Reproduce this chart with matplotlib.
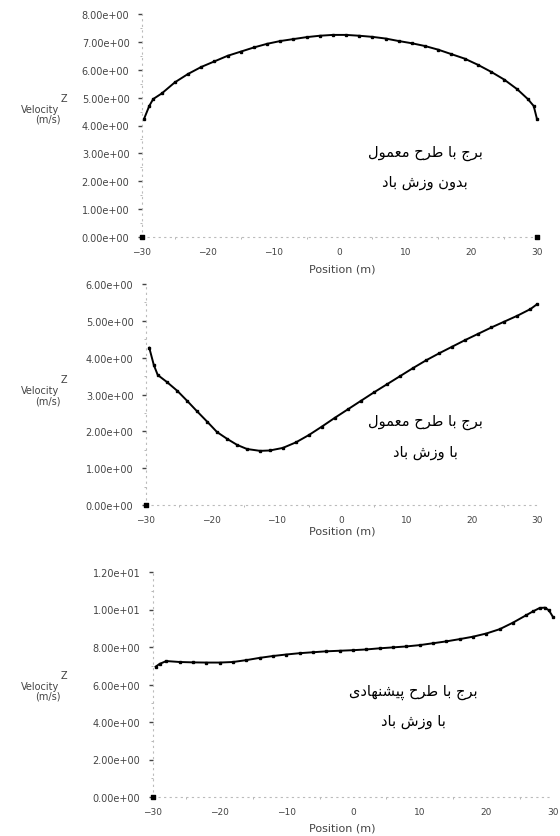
import matplotlib
matplotlib.use('Agg')
import matplotlib.pyplot as plt
from matplotlib.ticker import FormatStrFormatter, MultipleLocator

# --- data ---
pos1 = [-29.7, -28.9, -28.3, -27, -25, -23, -21, -19, -17, -15, -13, -11, -9, -7, -5, -3, -1,
        1, 3, 5, 7, 9, 11, 13, 15, 17, 19, 21, 23, 25, 27, 28.6, 29.5, 30]
vel1 = [4.23, 4.7, 4.95, 5.15, 5.55, 5.85, 6.1, 6.3, 6.5, 6.65, 6.8, 6.93, 7.03, 7.1, 7.17, 7.22, 7.25,
        7.25, 7.22, 7.18, 7.12, 7.03, 6.95, 6.85, 6.72, 6.56, 6.4, 6.18, 5.93, 5.65, 5.3, 4.95, 4.7, 4.23]

pos2 = [-29.5, -28.8, -28.2, -26.8, -25.2, -23.7, -22.2, -20.6, -19.1, -17.5, -16, -14.5, -12.5, -11,
        -9, -7, -5, -3, -1, 1, 3, 5, 7, 9, 11, 13, 15, 17, 19, 21, 23, 25, 27, 29, 30]
vel2 = [4.27, 3.8, 3.53, 3.34, 3.1, 2.83, 2.55, 2.26, 1.98, 1.79, 1.63, 1.52, 1.47, 1.48,
        1.55, 1.7, 1.9, 2.13, 2.37, 2.6, 2.83, 3.06, 3.28, 3.5, 3.72, 3.93, 4.12, 4.3, 4.48,
        4.65, 4.82, 4.98, 5.14, 5.32, 5.45]

pos3 = [-29.6, -29, -28, -26, -24, -22, -20, -18, -16, -14, -12, -10, -8, -6, -4, -2, 0, 2, 4, 6, 8,
        10, 12, 14, 16, 18, 20, 22, 24, 26, 27, 28, 28.8, 29.4, 30]
vel3 = [6.95, 7.1, 7.25, 7.2, 7.18, 7.17, 7.17, 7.2, 7.3, 7.42, 7.52, 7.6, 7.67, 7.72, 7.77, 7.8, 7.83,
        7.87, 7.93, 7.98, 8.03, 8.1, 8.2, 8.3, 8.42, 8.55, 8.72, 8.95, 9.3, 9.7, 9.9, 10.08, 10.1,
        9.95, 9.6]

# wall points sitting on the axis
wall_pos = [[-30, 30], [-30], [-30]]
wall_vel = [[0, 0], [0], [0]]

xticks = [-30, -20, -10, 0, 10, 20, 30]
ytop = [8, 6, 12]
ystep = [1, 1, 2]

captions = [("برج با طرح معمول", "بدون وزش باد"),
            ("برج با طرح معمول", "با وزش باد"),
            ("برج با طرح پیشنهادی", "با وزش باد")]

# --- tiny persian shaper (matplotlib does not join arabic letters) ---
forms = {
    'ا': ('\uFE8D', '\uFE8E', None, None),
    'ب': ('\uFE8F', '\uFE90', '\uFE91', '\uFE92'),
    'پ': ('\uFB56', '\uFB57', '\uFB58', '\uFB59'),
    'ج': ('\uFE9D', '\uFE9E', '\uFE9F', '\uFEA0'),
    'ح': ('\uFEA1', '\uFEA2', '\uFEA3', '\uFEA4'),
    'د': ('\uFEA9', '\uFEAA', None, None),
    'ر': ('\uFEAD', '\uFEAE', None, None),
    'ز': ('\uFEAF', '\uFEB0', None, None),
    'ش': ('\uFEB5', '\uFEB6', '\uFEB7', '\uFEB8'),
    'ط': ('\uFEC1', '\uFEC2', '\uFEC3', '\uFEC4'),
    'ع': ('\uFEC9', '\uFECA', '\uFECB', '\uFECC'),
    'ل': ('\uFEDD', '\uFEDE', '\uFEDF', '\uFEE0'),
    'م': ('\uFEE1', '\uFEE2', '\uFEE3', '\uFEE4'),
    'ن': ('\uFEE5', '\uFEE6', '\uFEE7', '\uFEE8'),
    'ه': ('\uFEE9', '\uFEEA', '\uFEEB', '\uFEEC'),
    'و': ('\uFEED', '\uFEEE', None, None),
    'ی': ('\uFBFC', '\uFBFD', '\uFBFE', '\uFBFF'),
}


def shape(s):
    out = []
    for i, c in enumerate(s):
        if c not in forms:
            out.append(c)
            continue
        prev = s[i - 1] if i > 0 else ' '
        nxt = s[i + 1] if i + 1 < len(s) else ' '
        jp = prev in forms and forms[prev][2] is not None
        jn = nxt in forms and forms[c][2] is not None
        f = forms[c]
        if jp and jn:
            out.append(f[3])
        elif jp:
            out.append(f[1])
        elif jn:
            out.append(f[2])
        else:
            out.append(f[0])
    return ''.join(out)[::-1]


plt.rcParams['font.family'] = ['DejaVu Sans']

fig = plt.figure(figsize=(5.6, 8.37), dpi=100)
W, H = 560, 837
# axes boxes in pixels: left, right, top, bottom
boxes = [(142, 537, 15, 238), (146, 537, 285, 506), (153, 553, 573, 798)]
xs = [pos1, pos2, pos3]
ys = [vel1, vel2, vel3]
cap_xy = [(425, 153, 183), (425, 422, 453), (413, 692, 722)]
xlab_y = [269, 532, 829]
ylab_y = [110, 391, 687]

for k in range(3):
    l, r, t, b = boxes[k]
    ax = fig.add_axes([l / W, 1 - b / H, (r - l) / W, (b - t) / H])
    ax.plot(xs[k], ys[k], color='black', lw=1.4, marker='s', ms=2.0, clip_on=False)
    ax.scatter(wall_pos[k], wall_vel[k], marker='s', s=7, color='black', clip_on=False, zorder=3)
    ax.set_xlim(-30, 30)
    ax.set_ylim(0, ytop[k])
    ax.set_xticks(xticks)
    ax.yaxis.set_major_locator(MultipleLocator(ystep[k]))
    ax.yaxis.set_minor_locator(MultipleLocator(ystep[k] / 2))
    ax.xaxis.set_minor_locator(MultipleLocator(5))
    ax.yaxis.set_major_formatter(FormatStrFormatter('%.2e'))
    ax.tick_params(axis='y', labelsize=7, colors='#444444', length=3, width=1.0, pad=6)
    ax.tick_params(axis='x', labelsize=6.5, colors='#444444', length=0, pad=7)
    ax.tick_params(which='minor', length=1.5, width=0.6, colors='#aaaaaa')
    for side in ['top', 'right']:
        ax.spines[side].set_visible(False)
    for side in ['left', 'bottom']:
        ax.spines[side].set_color('#bbbbbb')
        ax.spines[side].set_linestyle((0, (1, 4)))
        ax.spines[side].set_linewidth(0.8)

    yl = ylab_y[k]
    fig.text(64 / W, 1 - (yl - 11) / H, 'Z', ha='center', va='center', fontsize=7, color='#444444')
    fig.text(40 / W, 1 - yl / H, 'Velocity', ha='center', va='center', fontsize=7, color='#444444')
    fig.text(48 / W, 1 - (yl + 10) / H, '(m/s)', ha='center', va='center', fontsize=7, color='#444444')
    fig.text(342 / W, 1 - xlab_y[k] / H, 'Position (m)', ha='center', va='center',
             fontsize=8, color='#444444')

    cx, y1, y2 = cap_xy[k]
    fig.text(cx / W, 1 - y1 / H, shape(captions[k][0]), ha='center', va='center', fontsize=10.5)
    fig.text(cx / W, 1 - y2 / H, shape(captions[k][1]), ha='center', va='center', fontsize=10.5)

fig.savefig('out.png', dpi=100)
